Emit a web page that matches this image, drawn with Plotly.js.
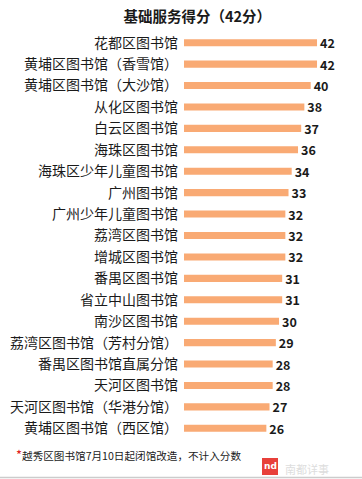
<!DOCTYPE html>
<html>
<head>
<meta charset="utf-8">
<script src="https://cdn.plot.ly/plotly-3.0.1.min.js"></script>
<style>html,body{margin:0;padding:0;background:#fff;}#chart{width:362px;height:479px;}</style>
</head>
<body>
<div id="chart"></div>
<script>
const libraries = [
  "花都区图书馆",
  "黄埔区图书馆（香雪馆）",
  "黄埔区图书馆（大沙馆）",
  "从化区图书馆",
  "白云区图书馆",
  "海珠区图书馆",
  "海珠区少年儿童图书馆",
  "广州图书馆",
  "广州少年儿童图书馆",
  "荔湾区图书馆",
  "增城区图书馆",
  "番禺区图书馆",
  "省立中山图书馆",
  "南沙区图书馆",
  "荔湾区图书馆（芳村分馆）",
  "番禺区图书馆直属分馆",
  "天河区图书馆",
  "天河区图书馆（华港分馆）",
  "黄埔区图书馆（西区馆）"
];
const scores = [42, 42, 40, 38, 37, 36, 34, 33, 32, 32, 32, 31, 31, 30, 29, 28, 28, 27, 26];
const titleText = "基础服务得分（42分）";
const noteText = "越秀区图书馆7月10日起闭馆改造，不计入分数";

const font = '"Noto Sans CJK SC", "Noto Sans", sans-serif';
const PH = 407; // plot height in px

const trace = {
  type: 'bar',
  orientation: 'h',
  y: libraries,
  x: scores,
  text: scores.map(String),
  textposition: 'outside',
  constraintext: 'none',
  cliponaxis: false,
  textfont: {family: font, size: 12.5, color: '#1a1a1a', weight: 'bold'},
  marker: {color: '#F9AA74'},
  width: 0.33,
  hoverinfo: 'none'
};

const layout = {
  width: 362,
  height: 479,
  margin: {l: 184, r: 0, t: 32, b: 40},
  paper_bgcolor: '#ffffff',
  plot_bgcolor: '#ffffff',
  showlegend: false,
  title: {
    text: '<b>' + titleText + '</b>',
    font: {family: font, size: 14.5, color: '#1a1a1a'},
    x: 0.545, xref: 'container', xanchor: 'center',
    y: 0.965, yref: 'container', yanchor: 'middle'
  },
  xaxis: {
    range: [0, 56.2],
    visible: false,
    fixedrange: true
  },
  yaxis: {
    type: 'category',
    autorange: 'reversed',
    showgrid: false,
    zeroline: false,
    showline: false,
    ticks: '',
    ticklabelstandoff: 5,
    tickfont: {family: font, size: 14, color: '#1a1a1a'},
    fixedrange: true
  },
  annotations: [
    {
      xref: 'paper', yref: 'paper',
      x: -170/178, y: -15/PH,
      xanchor: 'left', yanchor: 'middle',
      text: '<span style="color:#e02020;font-size:13px">*</span>' + noteText,
      showarrow: false,
      font: {family: font, size: 10.6, color: '#1a1a1a'}
    },
    {
      xref: 'paper', yref: 'paper',
      x: (283-184)/178, y: -30/PH,
      xanchor: 'left', yanchor: 'middle',
      text: '南都详事',
      showarrow: false,
      font: {family: font, size: 11, color: '#dddddd'}
    },
    {
      xref: 'paper', yref: 'paper',
      x: (270-184)/178, y: -27/PH,
      xanchor: 'center', yanchor: 'middle',
      text: '<b>nd</b>',
      showarrow: false,
      font: {family: 'DejaVu Sans', size: 9, color: '#ffffff'}
    }
  ],
  shapes: [
    {
      type: 'rect', xref: 'paper', yref: 'paper',
      x0: (262-184)/178, x1: (278-184)/178,
      y0: -36/PH, y1: -19/PH,
      fillcolor: '#e8403a', line: {width: 0}
    },
    {
      type: 'line', xref: 'paper', yref: 'paper',
      x0: -184/178, x1: 1,
      y0: -38.5/PH, y1: -38.5/PH,
      line: {color: '#cccccc', width: 1.5}
    }
  ]
};

Plotly.newPlot('chart', [trace], layout, {displayModeBar: false, staticPlot: true});
</script>
</body>
</html>
